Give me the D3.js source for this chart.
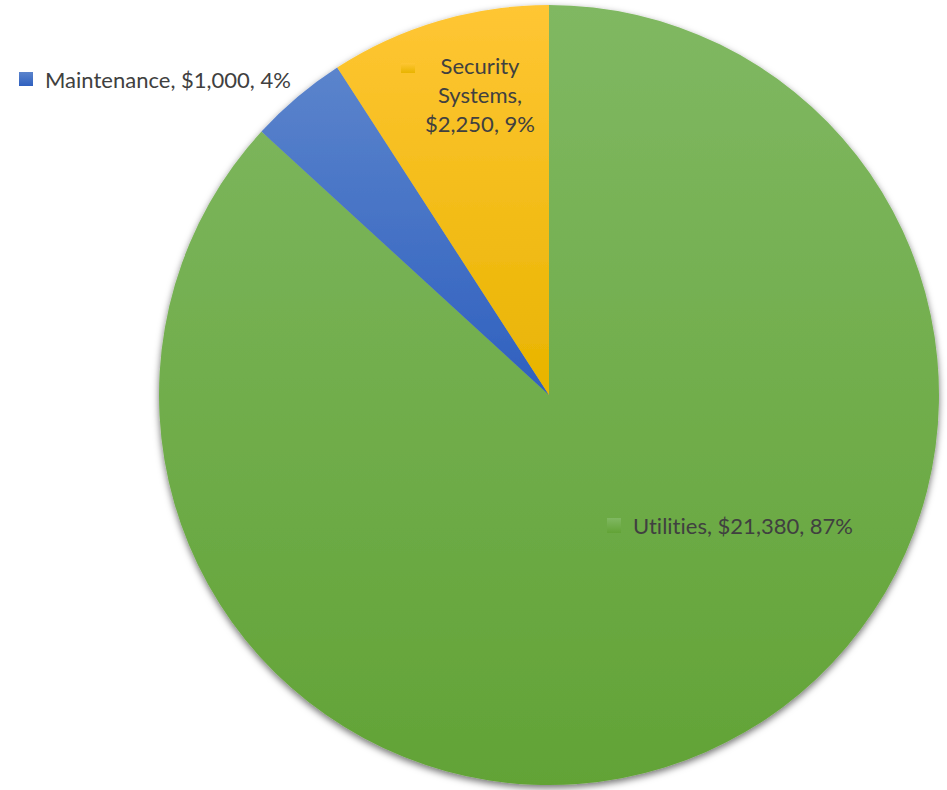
<!DOCTYPE html>
<html>
<head>
<meta charset="utf-8">
<script src="https://cdn.jsdelivr.net/npm/d3@7"></script>
<style>
  html, body { margin: 0; padding: 0; background: #fff; }
  #chart { width: 947px; height: 790px; }
  text { font-variant-ligatures: none; font-feature-settings: "liga" 0; }
</style>
</head>
<body>
<div id="chart"></div>
<script>
// Data
const categories = ['Utilities', 'Maintenance', 'Security Systems'];
const values = [21380, 1000, 2250];
const colorsTop = ['#80b862', '#5b84cc', '#ffc634'];
const colorsBottom = ['#62a336', '#2f60bf', '#e8b400'];

const width = 947;
const height = 790;
const cx = 549, cy = 395, radius = 390;

const svg = d3.select('#chart')
  .append('svg')
  .attr('width', width)
  .attr('height', height);

const defs = svg.append('defs');

categories.forEach((c, i) => {
  const g = defs.append('linearGradient')
    .attr('id', `grad${i}`)
    .attr('x1', 0).attr('y1', 0)
    .attr('x2', 0).attr('y2', 1);
  g.append('stop').attr('offset', '0%').attr('stop-color', colorsTop[i]);
  g.append('stop').attr('offset', '100%').attr('stop-color', colorsBottom[i]);
});

const shadow = defs.append('filter')
  .attr('id', 'shadow')
  .attr('x', '-10%').attr('y', '-10%')
  .attr('width', '120%').attr('height', '120%');
shadow.append('feDropShadow')
  .attr('dx', 0).attr('dy', 3)
  .attr('stdDeviation', 3.5)
  .attr('flood-color', '#000')
  .attr('flood-opacity', 0.55);

const total = d3.sum(values);
const data = categories.map((c, i) => ({ name: c, value: values[i], idx: i }));

const pie = d3.pie().sort(null).value(d => d.value);
const arc = d3.arc().innerRadius(0).outerRadius(radius);
const arcs = pie(data);

const chart = svg.append('g')
  .attr('transform', `translate(${cx},${cy})`);

const slices = chart.append('g').attr('filter', 'url(#shadow)');

slices.selectAll('path')
  .data(arcs)
  .join('path')
  .attr('d', arc)
  .attr('fill', d => `url(#grad${d.data.idx})`);

// Labels: name, $value, percent
const fmtMoney = d3.format('$,');
const fmtPct = d => Math.round(d / total * 100) + '%';

const fontFamily = 'Lato, "Open Sans", sans-serif';
const textColor = '#404040';

// scale font so the Maintenance label width matches the reference (~248px)
const probe = svg.append('text')
  .style('font-family', fontFamily)
  .style('font-size', '24px')
  .text(`${categories[1]}, ${fmtMoney(values[1])}, ${fmtPct(values[1])}`);
const probeW = probe.node().getComputedTextLength();
probe.remove();
const fontSize = 24 * 246 / probeW;

const labelDefs = [
  { idx: 0, marker: [607, 518, 14, 15], lines: [`${categories[0]}, ${fmtMoney(values[0])}, ${fmtPct(values[0])}`], x: 633, y: 534, anchor: 'start' },
  { idx: 1, marker: [19, 72, 14, 14], lines: [`${categories[1]}, ${fmtMoney(values[1])}, ${fmtPct(values[1])}`], x: 45, y: 88, anchor: 'start' },
  { idx: 2, marker: [401, 63, 14, 10], lines: ['Security', 'Systems,', `${fmtMoney(values[2])}, ${fmtPct(values[2])}`], x: 480, y: 74, anchor: 'middle' }
];

const labels = svg.append('g');

labelDefs.forEach(l => {
  labels.append('rect')
    .attr('x', l.marker[0]).attr('y', l.marker[1])
    .attr('width', l.marker[2]).attr('height', l.marker[3])
    .attr('fill', `url(#grad${l.idx})`);

  const t = labels.append('text')
    .attr('x', l.x).attr('y', l.y)
    .attr('text-anchor', l.anchor)
    .style('font-family', fontFamily)
    .style('font-size', fontSize + 'px')
    .style('fill', textColor);

  l.lines.forEach((line, j) => {
    t.append('tspan')
      .attr('x', l.x)
      .attr('dy', j === 0 ? 0 : 29)
      .text(line);
  });
});
</script>
</body>
</html>
